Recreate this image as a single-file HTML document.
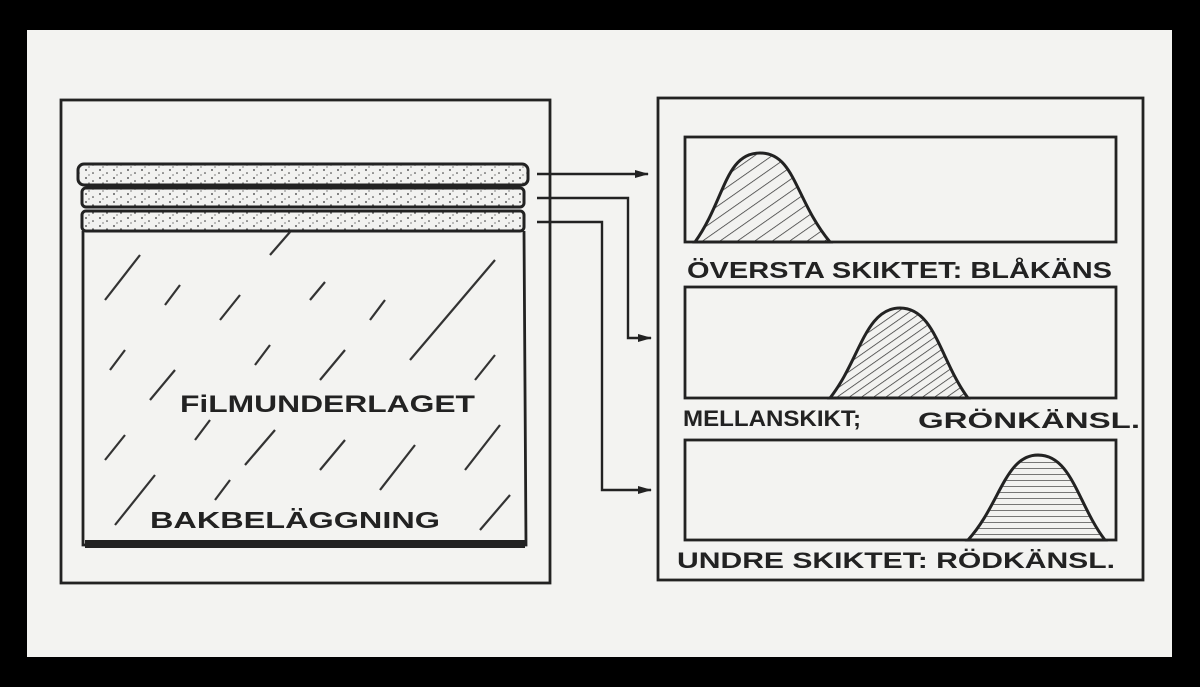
<!DOCTYPE html>
<html><head><meta charset="utf-8"><style>
html,body{margin:0;padding:0;background:#000;}
svg{display:block}
text{font-family:"Liberation Sans",sans-serif;font-weight:bold;fill:#222;}
</style></head><body>
<svg width="1200" height="687" viewBox="0 0 1200 687" xmlns="http://www.w3.org/2000/svg">
<defs>
<pattern id="dots" width="14" height="8" patternUnits="userSpaceOnUse">
<rect width="14" height="8" fill="#f2f2f0"/>
<circle cx="2" cy="2" r="0.9" fill="#333"/><circle cx="9" cy="5" r="0.8" fill="#333"/><circle cx="5" cy="7" r="0.6" fill="#333"/>
</pattern>
<pattern id="diag" width="10" height="10" patternUnits="userSpaceOnUse" patternTransform="rotate(-35)">
<rect width="10" height="10" fill="#f2f2f0"/><line x1="0" y1="0" x2="10" y2="0" stroke="#333" stroke-width="1.5"/>
</pattern>
<pattern id="diag2" width="7" height="7" patternUnits="userSpaceOnUse" patternTransform="rotate(-35)">
<rect width="7" height="7" fill="#f2f2f0"/><line x1="0" y1="0" x2="7" y2="0" stroke="#333" stroke-width="1.5"/>
</pattern>
<pattern id="horiz" width="6" height="6" patternUnits="userSpaceOnUse">
<rect width="6" height="6" fill="#f2f2f0"/><line x1="0" y1="0" x2="6" y2="0" stroke="#333" stroke-width="1.3"/>
</pattern>
<marker id="ah" markerWidth="14" markerHeight="10" refX="13" refY="5" orient="auto" markerUnits="userSpaceOnUse">
<path d="M0,1 L14,5 L0,9 Z" fill="#222"/></marker>
</defs>
<rect x="27" y="30" width="1145" height="627" fill="#f3f3f1"/>
<g fill="none" stroke="#222" stroke-width="2.8">
<rect x="61" y="100" width="489" height="483"/>
<rect x="658" y="98" width="485" height="482"/>
<rect x="685" y="137" width="431" height="105"/>
<rect x="685" y="287" width="431" height="111"/>
<rect x="685" y="440" width="431" height="100"/>
</g>
<path d="M83,231 L83,545 L526,545 L524,231" fill="#f3f3f1" stroke="#222" stroke-width="2.8"/>
<rect x="85" y="540" width="440" height="8" fill="#222"/>
<rect x="78" y="164" width="450" height="21" rx="6" fill="url(#dots)" stroke="#222" stroke-width="3"/>
<rect x="82" y="188" width="442" height="19" rx="4" fill="url(#dots)" stroke="#222" stroke-width="3"/>
<rect x="82" y="211" width="442" height="20" rx="4" fill="url(#dots)" stroke="#222" stroke-width="3"/>
<g stroke="#333" stroke-width="2.2">
<line x1="270" y1="255" x2="290" y2="232"/><line x1="105" y1="300" x2="140" y2="255"/><line x1="165" y1="305" x2="180" y2="285"/>
<line x1="220" y1="320" x2="240" y2="295"/><line x1="310" y1="300" x2="325" y2="282"/><line x1="370" y1="320" x2="385" y2="300"/>
<line x1="410" y1="360" x2="495" y2="260"/><line x1="110" y1="370" x2="125" y2="350"/><line x1="255" y1="365" x2="270" y2="345"/>
<line x1="320" y1="380" x2="345" y2="350"/><line x1="475" y1="380" x2="495" y2="355"/><line x1="150" y1="400" x2="175" y2="370"/>
<line x1="105" y1="460" x2="125" y2="435"/><line x1="195" y1="440" x2="210" y2="420"/><line x1="245" y1="465" x2="275" y2="430"/>
<line x1="320" y1="470" x2="345" y2="440"/><line x1="380" y1="490" x2="415" y2="445"/><line x1="465" y1="470" x2="500" y2="425"/>
<line x1="115" y1="525" x2="155" y2="475"/><line x1="215" y1="500" x2="230" y2="480"/><line x1="480" y1="530" x2="510" y2="495"/>
</g>
<text x="180" y="412" font-size="24" textLength="295" lengthAdjust="spacingAndGlyphs">FiLMUNDERLAGET</text>
<text x="150" y="528" font-size="23" textLength="290" lengthAdjust="spacingAndGlyphs">BAKBELÄGGNING</text>
<g fill="none" stroke="#222" stroke-width="2.4">
<line x1="537" y1="174" x2="648" y2="174" marker-end="url(#ah)"/>
<polyline points="537,198 628,198 628,338 651,338" marker-end="url(#ah)"/>
<polyline points="537,222 602,222 602,490 651,490" marker-end="url(#ah)"/>
</g>
<path d="M695,242 C725,200 725,153 760,153 C795,153 795,200 830,242 Z" fill="url(#diag)" stroke="#222" stroke-width="3"/>
<path d="M830,398 C860,360 865,308 900,308 C935,308 940,360 968,398 Z" fill="url(#diag2)" stroke="#222" stroke-width="3"/>
<path d="M968,540 C1000,505 1005,455 1038,455 C1072,455 1078,505 1105,540 Z" fill="url(#horiz)" stroke="#222" stroke-width="3"/>
<text x="687" y="278" font-size="23" textLength="425" lengthAdjust="spacingAndGlyphs">ÖVERSTA SKIKTET: BLÅKÄNS</text>
<text x="683" y="426" font-size="22" textLength="178" lengthAdjust="spacingAndGlyphs">MELLANSKIKT;</text>
<text x="918" y="428" font-size="22" textLength="222" lengthAdjust="spacingAndGlyphs">GRÖNKÄNSL.</text>
<text x="677" y="568" font-size="22" textLength="438" lengthAdjust="spacingAndGlyphs">UNDRE SKIKTET: RÖDKÄNSL.</text>
</svg>
</body></html>
